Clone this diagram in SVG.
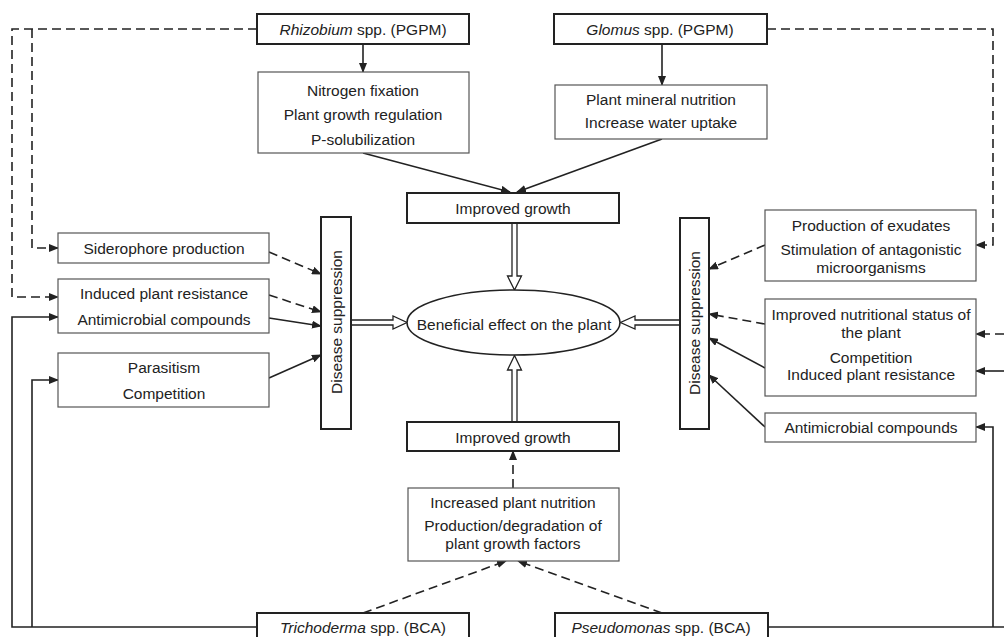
<svg xmlns="http://www.w3.org/2000/svg" width="1004" height="637" viewBox="0 0 1004 637">
<defs>
<style>
text{font-family:"Liberation Sans",Arial,sans-serif;font-size:15.5px;fill:#222;text-anchor:middle}
.it{font-style:italic}
.thin{fill:#fff;stroke:#555;stroke-width:1.2}
.thick{fill:#fff;stroke:#222;stroke-width:2}
.ln{fill:none;stroke:#222;stroke-width:1.6}
.ar{marker-end:url(#ah)}
.d{stroke-dasharray:9 5}
.hol{fill:#fff;stroke:#222;stroke-width:1.3}
</style>
<marker id="ah" markerWidth="10" markerHeight="8" refX="9" refY="4" orient="auto" markerUnits="userSpaceOnUse">
<path d="M0,0 L10,4 L0,8 Z" fill="#222"/>
</marker>
</defs>
<rect width="1004" height="637" fill="#fff"/>

<g id="connectors">
<line class="ln ar" x1="363" y1="44" x2="363" y2="72"/>
<line class="ln ar" x1="662" y1="44" x2="662" y2="85"/>
<line class="ln ar" x1="363" y1="153" x2="510" y2="192"/>
<line class="ln ar" x1="662" y1="139" x2="517" y2="192"/>
<polyline class="ln d ar" points="257,29 12,29 12,297 58,297"/>
<polyline class="ln d ar" points="32,29 32,248 58,248"/>
<polyline class="ln ar" points="257,627 12,627 12,317 58,317"/>
<polyline class="ln ar" points="32,627 32,380 58,380"/>
<line class="ln d ar" x1="269" y1="252" x2="321" y2="274"/>
<line class="ln d ar" x1="269" y1="295" x2="321" y2="312"/>
<line class="ln ar" x1="269" y1="318" x2="321" y2="326"/>
<line class="ln ar" x1="269" y1="378" x2="321" y2="355"/>
<polyline class="ln d ar" points="767,29 993,29 993,245 976,245"/>
<line class="ln d ar" x1="1004" y1="334" x2="976" y2="334"/>
<line class="ln ar" x1="1004" y1="371" x2="976" y2="371"/>
<line class="ln" x1="768" y1="627" x2="1004" y2="627"/>
<polyline class="ln ar" points="993,627 993,427 976,427"/>
<line class="ln d ar" x1="765" y1="245" x2="709" y2="269"/>
<line class="ln d ar" x1="765" y1="324" x2="709" y2="314"/>
<line class="ln ar" x1="765" y1="368" x2="709" y2="338"/>
<line class="ln ar" x1="765" y1="427" x2="709" y2="375"/>
<line class="ln d ar" x1="513" y1="488" x2="513" y2="451"/>
<line class="ln d ar" x1="363" y1="613" x2="506" y2="561"/>
<line class="ln d ar" x1="662" y1="613" x2="518" y2="561"/>
<polygon class="hol" points="512,223 512,276 507.5,276 514.5,290 521.5,276 517,276 517,223"/>
<polygon class="hol" points="512,422 512,370 507.5,370 514.5,355.5 521.5,370 517,370 517,422"/>
<polygon class="hol" points="351,320 393,320 393,316 407,322.5 393,329 393,325 351,325"/>
<polygon class="hol" points="680,320 635,320 635,316 620.5,322.5 635,329 635,325 680,325"/>
</g>

<g id="rhizobium"><rect class="thick" x="257" y="14" width="212" height="30"/><text x="363" y="35"><tspan class="it">Rhizobium</tspan> spp. (PGPM)</text></g>
<g id="glomus"><rect class="thick" x="554" y="14" width="213" height="30"/><text x="660" y="35"><tspan class="it">Glomus</tspan> spp. (PGPM)</text></g>
<g id="nitrogen"><rect class="thin" x="258" y="72" width="211" height="81"/><text x="363" y="96">Nitrogen fixation</text><text x="363" y="120">Plant growth regulation</text><text x="363" y="145">P-solubilization</text></g>
<g id="mineral"><rect class="thin" x="555" y="85" width="212" height="54"/><text x="661" y="105">Plant mineral nutrition</text><text x="661" y="128">Increase water uptake</text></g>
<g id="growth-top"><rect class="thick" x="407" y="193" width="212" height="30"/><text x="513" y="214">Improved growth</text></g>
<g id="beneficial"><ellipse cx="513.5" cy="322.5" rx="106.5" ry="32.5" fill="#fff" stroke="#222" stroke-width="1.6"/><text x="514" y="330">Beneficial effect on the plant</text></g>
<g id="ds-left"><rect class="thick" x="321" y="217" width="30" height="212"/><text transform="translate(341.5,322) rotate(-90)">Disease suppression</text></g>
<g id="ds-right"><rect class="thick" x="680" y="218" width="29" height="211"/><text transform="translate(700,323) rotate(-90)">Disease suppression</text></g>
<g id="siderophore"><rect class="thin" x="58" y="233" width="211" height="30"/><text x="164" y="254">Siderophore production</text></g>
<g id="induced-left"><rect class="thin" x="58" y="279" width="211" height="54"/><text x="164" y="299">Induced plant resistance</text><text x="164" y="325">Antimicrobial compounds</text></g>
<g id="parasitism"><rect class="thin" x="58" y="353" width="211" height="54"/><text x="164" y="373">Parasitism</text><text x="164" y="399">Competition</text></g>
<g id="exudates"><rect class="thin" x="765" y="210" width="211" height="71"/><text x="871" y="231">Production of exudates</text><text x="871" y="255">Stimulation of antagonistic</text><text x="871" y="273">microorganisms</text></g>
<g id="nutritional"><rect class="thin" x="765" y="299" width="211" height="97"/><text x="871" y="320">Improved nutritional status of</text><text x="871" y="338">the plant</text><text x="871" y="363">Competition</text><text x="871" y="380">Induced plant resistance</text></g>
<g id="antimicrobial-right"><rect class="thin" x="765" y="413" width="211" height="29"/><text x="871" y="433">Antimicrobial compounds</text></g>
<g id="growth-bottom"><rect class="thick" x="407" y="422" width="212" height="29"/><text x="513" y="443">Improved growth</text></g>
<g id="increased"><rect class="thin" x="408" y="488" width="211" height="73"/><text x="513" y="508">Increased plant nutrition</text><text x="513" y="531">Production/degradation of</text><text x="513" y="549">plant growth factors</text></g>
<g id="trichoderma"><rect class="thick" x="257" y="613" width="212" height="34"/><text x="363" y="633"><tspan class="it">Trichoderma</tspan> spp. (BCA)</text></g>
<g id="pseudomonas"><rect class="thick" x="555" y="613" width="213" height="34"/><text x="661" y="633"><tspan class="it">Pseudomonas</tspan> spp. (BCA)</text></g>
</svg>
